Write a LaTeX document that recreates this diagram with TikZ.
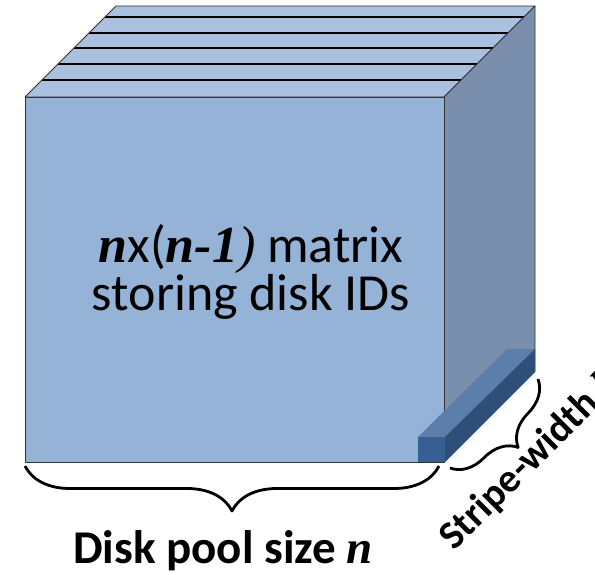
\documentclass[tikz,border=0pt]{standalone}
\usepackage{fontspec}
\setmainfont{Carlito}
\newfontfamily\tms{Liberation Serif}
\usetikzlibrary{decorations.pathreplacing}
\definecolor{frontblue}{HTML}{95B3D7}
\definecolor{topblue}{HTML}{A9C1DF}
\definecolor{sideblue}{HTML}{7A8FAD}
\definecolor{barfront}{HTML}{376092}
\definecolor{bartop}{HTML}{5B7FAA}
\definecolor{barside}{HTML}{2E5078}
\newcommand*{\varn}[1]{{\tms\bfseries\itshape #1}}
\tikzset{
  face/.style={draw=black!80,line width=0.8pt},
  bigbrace/.style={decorate,decoration={brace,mirror,amplitude=#1},line width=2.8pt},
  bigtext/.style={font=\fontsize{52}{48}\selectfont},
  boldtext/.style={font=\fontsize{#1}{48}\selectfont\bfseries}
}

\begin{document}
\begin{tikzpicture}[x=1pt,y=1pt,line join=round]
  \useasboundingbox (0,0) rectangle (595,574);
  % cube corners
  \coordinate (fbl) at (25,112);
  \coordinate (fbr) at (444,112);
  \coordinate (ftl) at (25,477);
  \coordinate (ftr) at (444,477);
  \coordinate (btl) at (116,568);
  \coordinate (btr) at (535,568);
  \coordinate (bbr) at (535,203);
  % faces
  \fill[topblue] (ftl)--(ftr)--(btr)--(btl)--cycle;
  \foreach \y in {494,510,526,541,557}
    \draw[line width=1.3pt] (25+\y-477,\y)--(444+\y-477,\y);
  \draw[face] (ftl)--(ftr)--(btr)--(btl)--cycle;
  \draw[face,fill=sideblue] (fbr)--(bbr)--(btr)--(ftr)--cycle;
  \draw[face,fill=frontblue] (fbl) rectangle (ftr);
  % stripe bar
  \fill[bartop] (418,137)--(445,137)--(535,225)--(507,225)--cycle;
  \fill[barside] (445,137)--(535,225)--(535,202)--(445,112)--cycle;
  \fill[barfront] (418,112) rectangle (445,137);
  % text
  \node[bigtext,align=center] (matrix) at (251,302)
    {\varn{n}x(\varn{n-1}{\tms\itshape)} matrix\\storing disk IDs};
  % braces
  \coordinate (nl) at (25,108);
  \coordinate (nr) at (439,108);
  \draw[bigbrace=45pt] (nl)--(nr);
  \node[boldtext=47,anchor=base] (pool) at (223,11)
    {Disk pool size \varn{n}};
  \coordinate (kl) at (450,106);
  \coordinate (kr) at (538,195);
  \draw[bigbrace=34pt] (kl)--(kr);
  \node[boldtext=40,rotate=45,anchor=base west] (stripe) at (452,20)
    {Stripe-width \varn{k}};
\end{tikzpicture}
\end{document}
